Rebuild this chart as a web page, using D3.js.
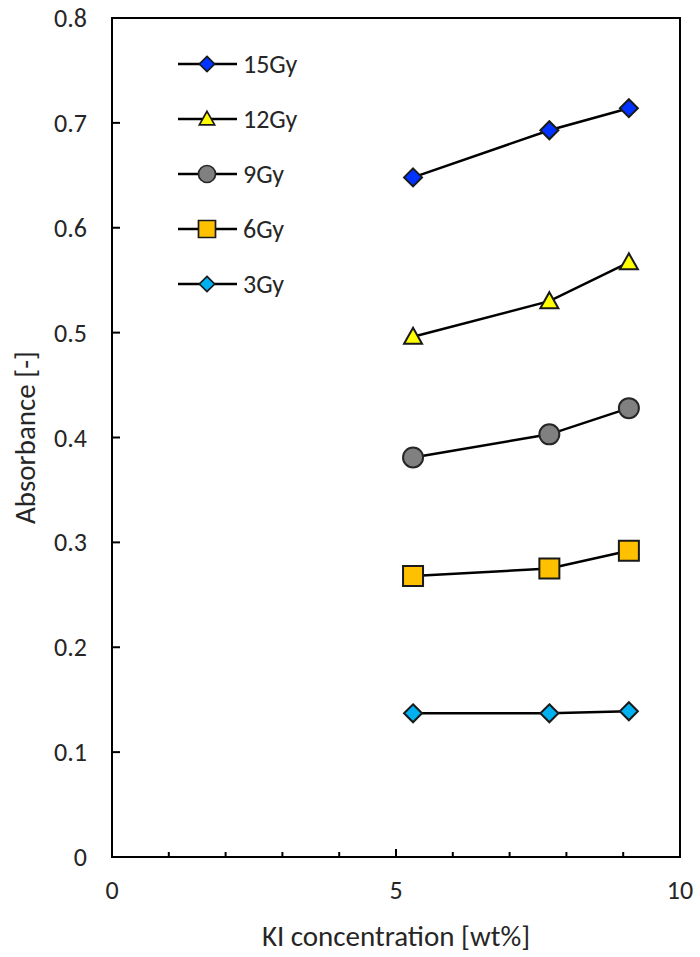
<!DOCTYPE html>
<html>
<head>
<meta charset="utf-8">
<script src="https://cdn.jsdelivr.net/npm/d3@7"></script>
<style>
  body { margin: 0; background: #fff; }
  text { font-family: Carlito, Calibri, "Open Sans", sans-serif; fill: #262626; }
</style>
</head>
<body>
<svg id="chart" width="700" height="957"></svg>
<script>
// KI concentration [wt%]
const concentrations = [5.3, 7.7, 9.1];

const doses = ['15Gy', '12Gy', '9Gy', '6Gy', '3Gy'];
const absorbance15 = [0.648, 0.693, 0.714];
const absorbance12 = [0.496, 0.530, 0.567];
const absorbance9 = [0.381, 0.403, 0.428];
const absorbance6 = [0.268, 0.275, 0.292];
const absorbance3 = [0.137, 0.137, 0.139];

const xTicks = [0, 5, 10];
const yTicks = [0, 0.1, 0.2, 0.3, 0.4, 0.5, 0.6, 0.7, 0.8];

const series = [
  { name: doses[0], values: absorbance15, shape: 'diamond', fill: '#0033ff' },
  { name: doses[1], values: absorbance12, shape: 'triangle', fill: '#ffff00' },
  { name: doses[2], values: absorbance9, shape: 'circle', fill: '#808080' },
  { name: doses[3], values: absorbance6, shape: 'square', fill: '#ffc000' },
  { name: doses[4], values: absorbance3, shape: 'diamond', fill: '#00b0f0' }
];

const margin = { top: 18, right: 20, bottom: 100, left: 112 };
const width = 700, height = 957;
const svg = d3.select('#chart');

const x = d3.scaleLinear().domain([0, 10]).range([margin.left, width - margin.right]);
const y = d3.scaleLinear().domain([0, 0.8]).range([height - margin.bottom, margin.top]);

// marker shapes drawn around (0,0)
const markerPath = shape => {
  switch (shape) {
    case 'diamond': return 'M0,-9L9,0L0,9L-9,0Z';
    case 'triangle': return 'M0,-9L9,7L-9,7Z';
    case 'square': return 'M-10,-10H10V10H-10Z';
    default: return null;
  }
};

const drawMarker = (g, s) => {
  if (s.shape === 'circle') {
    g.append('circle').attr('r', 10)
      .attr('fill', s.fill).attr('stroke', '#262626').attr('stroke-width', 2);
  } else {
    g.append('path').attr('d', markerPath(s.shape))
      .attr('fill', s.fill).attr('stroke', '#1a1a1a').attr('stroke-width', 2)
      .attr('stroke-linejoin', 'miter');
  }
};

// minor x ticks every 1 (inward), longer at 5
const xt = svg.append('g').attr('transform', `translate(0,${y(0)})`);
xt.selectAll('line').data(d3.range(1, 10)).join('line')
  .attr('x1', d => x(d)).attr('x2', d => x(d))
  .attr('y1', 0).attr('y2', d => d === 5 ? -8 : -5)
  .attr('stroke', '#000').attr('stroke-width', 2);

// y ticks inward
svg.append('g').selectAll('line').data(yTicks.slice(1, -1)).join('line')
  .attr('x1', x(0)).attr('x2', x(0) + 8)
  .attr('y1', d => y(d)).attr('y2', d => y(d))
  .attr('stroke', '#000').attr('stroke-width', 2);

// frame
svg.append('rect')
  .attr('x', x(0)).attr('y', y(0.8))
  .attr('width', x(10) - x(0)).attr('height', y(0) - y(0.8))
  .attr('fill', 'none').attr('stroke', '#000').attr('stroke-width', 2);

// tick labels
svg.append('g').selectAll('text').data(yTicks).join('text')
  .attr('x', x(0) - 25).attr('y', d => y(d)).attr('dy', '0.35em')
  .attr('text-anchor', 'end').attr('font-size', 26)
  .text(d => d3.format('.1~f')(d));

svg.append('g').selectAll('text').data(xTicks).join('text')
  .attr('x', d => x(d)).attr('y', y(0) + 42)
  .attr('text-anchor', 'middle').attr('font-size', 26)
  .text(d => d);

// axis titles
svg.append('text')
  .attr('x', (x(0) + x(10)) / 2).attr('y', 946)
  .attr('text-anchor', 'middle').attr('font-size', 29)
  .text('KI concentration [wt%]');

svg.append('text')
  .attr('transform', `translate(35,${(y(0) + y(0.8)) / 2}) rotate(-90)`)
  .attr('text-anchor', 'middle').attr('font-size', 29)
  .text('Absorbance [-]');

// series
const line = d3.line().x(d => x(d[0])).y(d => y(d[1]));
series.forEach(s => {
  const pts = concentrations.map((c, i) => [c, s.values[i]]);
  svg.append('path').datum(pts)
    .attr('d', line).attr('fill', 'none')
    .attr('stroke', '#000').attr('stroke-width', 2.5);
  pts.forEach(p => {
    const g = svg.append('g').attr('transform', `translate(${x(p[0])},${y(p[1])})`);
    drawMarker(g, s);
  });
});

// legend
const legend = svg.append('g').attr('transform', 'translate(178,64)');
series.forEach((s, i) => {
  const row = legend.append('g').attr('transform', `translate(0,${i * 55})`);
  row.append('line').attr('x1', 0).attr('x2', 59)
    .attr('stroke', '#000').attr('stroke-width', 2.5);
  const m = row.append('g').attr('transform', 'translate(29,0) scale(0.85)');
  drawMarker(m, s);
  row.append('text').attr('x', 65).attr('dy', '0.35em')
    .attr('font-size', 26).text(s.name);
});
</script>
</body>
</html>
